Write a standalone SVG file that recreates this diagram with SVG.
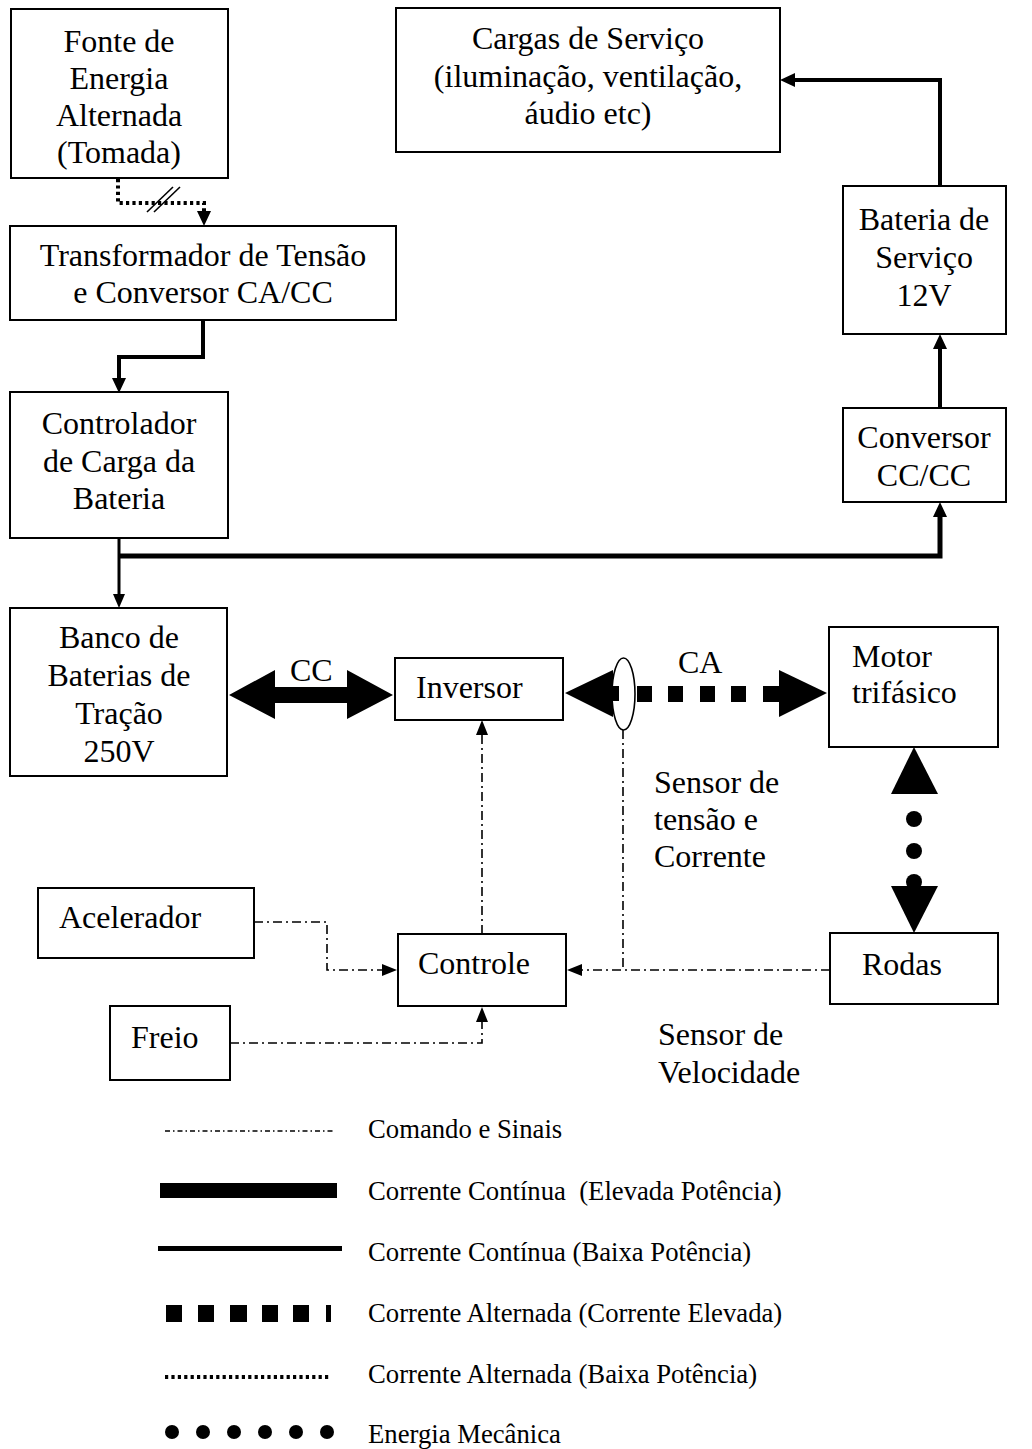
<svg xmlns="http://www.w3.org/2000/svg" width="1032" height="1449" viewBox="0 0 1032 1449">
<style>
.box{fill:#fff;stroke:#000;stroke-width:2}
.t{font-family:"Liberation Serif","Times New Roman",serif;font-size:32px;fill:#000}
.c{text-anchor:middle}
.lg{font-family:"Liberation Serif","Times New Roman",serif;font-size:26.7px;fill:#000;white-space:pre}
.dc{fill:none;stroke:#000;stroke-width:4;stroke-linejoin:miter}
.sig{fill:none;stroke:#000;stroke-width:1.6;stroke-dasharray:9 4 2 4}
.ac{fill:none;stroke:#000;stroke-width:4;stroke-dasharray:3.2 3.2}
.ah{fill:#000;stroke:none}
</style>
<rect width="1032" height="1449" fill="#fff"/>

<g id="connectors">
  <path class="ac" d="M118,179 V203 H204 V212"/>
  <line x1="147" y1="212" x2="173" y2="187" stroke="#000" stroke-width="1.6"/>
  <line x1="154" y1="212" x2="180" y2="187" stroke="#000" stroke-width="1.6"/>
  <polygon class="ah" points="197,211 211,211 204,226"/>
  <path class="dc" d="M203,320 V357 H119 V378"/>
  <polygon class="ah" points="112,378 126,378 119,393"/>
  <path class="dc" d="M119,538 V594" style="stroke-width:3"/>
  <polygon class="ah" points="113,594 125,594 119,608"/>
  <path class="dc" d="M119,556 H940 V517" style="stroke-width:5"/>
  <polygon class="ah" points="933,517 947,517 940,502"/>
  <path class="dc" d="M940,408 V349"/>
  <polygon class="ah" points="933,349 947,349 940,334"/>
  <path class="dc" d="M940,186 V80 H795"/>
  <polygon class="ah" points="795,73 795,87 780,80"/>
  <polygon class="ah" points="229,695 275,670 275,687 347,687 347,670 393,695 347,719 347,703 275,703 275,719"/>
  <text class="t" x="290" y="681">CC</text>
  <polygon class="ah" points="565,693 613,670 613,686 619,686 619,701 613,701 613,717"/>
  <rect class="ah" x="637" y="686" width="15" height="16"/>
  <rect class="ah" x="668" y="686" width="15" height="16"/>
  <rect class="ah" x="700" y="686" width="15" height="16"/>
  <rect class="ah" x="731" y="686" width="15" height="16"/>
  <rect class="ah" x="763" y="686" width="17" height="16"/>
  <polygon class="ah" points="779,670 827,693 779,717"/>
  <ellipse cx="623.5" cy="694" rx="11.5" ry="36" fill="none" stroke="#000" stroke-width="1.6"/>
  <text class="t" x="678" y="673">CA</text>
  <polygon class="ah" points="914,747 891,794 938,794"/>
  <circle class="ah" cx="914" cy="819" r="8"/>
  <circle class="ah" cx="914" cy="851" r="8"/>
  <circle class="ah" cx="914" cy="882" r="8"/>
  <polygon class="ah" points="891,886 938,886 914,933"/>
  <path class="sig" d="M482,934 V735"/>
  <polygon class="ah" points="476,735 488,735 482,720"/>
  <path class="sig" d="M254,922 H327 V970 H382"/>
  <polygon class="ah" points="382,964 382,976 397,970"/>
  <path class="sig" d="M830,970 H582"/>
  <path class="sig" d="M623,730 V970"/>
  <polygon class="ah" points="582,964 582,976 567,970"/>
  <path class="sig" d="M230,1043 H482 V1022"/>
  <polygon class="ah" points="476,1022 488,1022 482,1007"/>
</g>

<g id="fonte"><rect class="box" x="11" y="9" width="217" height="169"/>
  <text class="t c" x="119" y="52">Fonte de</text>
  <text class="t c" x="119" y="89">Energia</text>
  <text class="t c" x="119" y="126">Alternada</text>
  <text class="t c" x="119" y="163">(Tomada)</text></g>
<g id="cargas"><rect class="box" x="396" y="8" width="384" height="144"/>
  <text class="t c" x="588" y="49">Cargas de Serviço</text>
  <text class="t c" x="588" y="87">(iluminação, ventilação,</text>
  <text class="t c" x="588" y="124">áudio etc)</text></g>
<g id="transformador"><rect class="box" x="10" y="226" width="386" height="94"/>
  <text class="t c" x="203" y="266">Transformador de Tensão</text>
  <text class="t c" x="203" y="303">e Conversor CA/CC</text></g>
<g id="bateria-servico"><rect class="box" x="843" y="186" width="163" height="148"/>
  <text class="t c" x="924" y="230">Bateria de</text>
  <text class="t c" x="924" y="268">Serviço</text>
  <text class="t c" x="924" y="306">12V</text></g>
<g id="controlador"><rect class="box" x="10" y="392" width="218" height="146"/>
  <text class="t c" x="119" y="434">Controlador</text>
  <text class="t c" x="119" y="472">de Carga da</text>
  <text class="t c" x="119" y="509">Bateria</text></g>
<g id="conversor"><rect class="box" x="843" y="408" width="163" height="94"/>
  <text class="t c" x="924" y="448">Conversor</text>
  <text class="t c" x="924" y="486">CC/CC</text></g>
<g id="banco"><rect class="box" x="10" y="608" width="217" height="168"/>
  <text class="t c" x="119" y="648">Banco de</text>
  <text class="t c" x="119" y="686">Baterias de</text>
  <text class="t c" x="119" y="724">Tração</text>
  <text class="t c" x="119" y="762">250V</text></g>
<g id="inversor"><rect class="box" x="395" y="658" width="168" height="62"/>
  <text class="t" x="416" y="698">Inversor</text></g>
<g id="motor"><rect class="box" x="829" y="627" width="169" height="120"/>
  <text class="t" x="852" y="667">Motor</text>
  <text class="t" x="852" y="703">trifásico</text></g>
<g id="sensor-tensao">
  <text class="t" x="654" y="793">Sensor de</text>
  <text class="t" x="654" y="830">tensão e</text>
  <text class="t" x="654" y="867">Corrente</text></g>
<g id="acelerador"><rect class="box" x="38" y="888" width="216" height="70"/>
  <text class="t" x="59" y="928">Acelerador</text></g>
<g id="controle"><rect class="box" x="398" y="934" width="168" height="72"/>
  <text class="t" x="418" y="974">Controle</text></g>
<g id="rodas"><rect class="box" x="830" y="933" width="168" height="71"/>
  <text class="t" x="862" y="975">Rodas</text></g>
<g id="freio"><rect class="box" x="110" y="1006" width="120" height="74"/>
  <text class="t" x="131" y="1048">Freio</text></g>
<g id="sensor-velocidade">
  <text class="t" x="658" y="1045">Sensor de</text>
  <text class="t" x="658" y="1083">Velocidade</text></g>

<g id="legend">
  <line x1="165" y1="1131" x2="335" y2="1131" stroke="#000" stroke-width="1.5" stroke-dasharray="5 3 1.5 3"/>
  <text class="lg" x="368" y="1138">Comando e Sinais</text>
  <rect class="ah" x="160" y="1183" width="177" height="15"/>
  <text class="lg" x="368" y="1200">Corrente Contínua&#160; (Elevada Potência)</text>
  <rect class="ah" x="158" y="1246" width="184" height="5"/>
  <text class="lg" x="368" y="1261">Corrente Contínua (Baixa Potência)</text>
  <rect class="ah" x="166" y="1305" width="16" height="17"/>
  <rect class="ah" x="198" y="1305" width="16" height="17"/>
  <rect class="ah" x="230" y="1305" width="17" height="17"/>
  <rect class="ah" x="262" y="1305" width="16" height="17"/>
  <rect class="ah" x="293" y="1305" width="16" height="17"/>
  <rect class="ah" x="326" y="1305" width="5" height="17"/>
  <text class="lg" x="368" y="1322">Corrente Alternada (Corrente Elevada)</text>
  <line x1="165" y1="1377" x2="330" y2="1377" stroke="#000" stroke-width="4" stroke-dasharray="3.2 3.2"/>
  <text class="lg" x="368" y="1383">Corrente Alternada (Baixa Potência)</text>
  <circle class="ah" cx="172" cy="1432" r="7"/>
  <circle class="ah" cx="203" cy="1432" r="7"/>
  <circle class="ah" cx="234" cy="1432" r="7"/>
  <circle class="ah" cx="265" cy="1432" r="7"/>
  <circle class="ah" cx="296" cy="1432" r="7"/>
  <circle class="ah" cx="327" cy="1432" r="7"/>
  <text class="lg" x="368" y="1443">Energia Mecânica</text>
</g>
</svg>
